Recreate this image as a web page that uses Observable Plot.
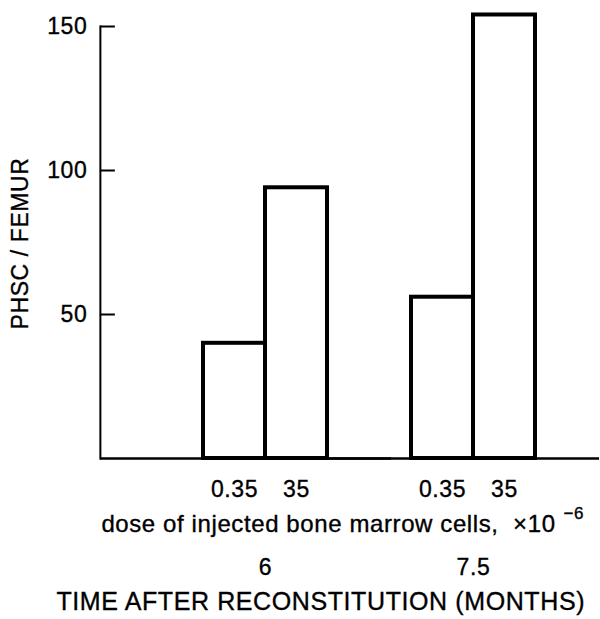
<!DOCTYPE html>
<html><head><meta charset="utf-8">
<script src="https://cdn.jsdelivr.net/npm/d3@7"></script>
<script src="https://cdn.jsdelivr.net/npm/@observablehq/plot@0.6"></script>
<style>
body{margin:0;background:#fff;}
#chart svg{display:block}
#chart text{letter-spacing:0.6px;stroke:#000;stroke-width:0.35px}
#chart g[aria-label="x-label"] text{letter-spacing:0.9px}
#chart g[aria-label="time-label"] text{letter-spacing:1.05px}
#chart g[aria-label="y-label"] text{letter-spacing:0.2px}
#chart g[aria-label="x-label-exp"] text{letter-spacing:0.5px}
</style></head><body><div id="chart"></div>
<script>
const times = ["6", "7.5"];
const doses = ["0.35", "35"];
const phsc6 = [40, 94];
const phsc75 = [56, 154];
const yTicks = [50, 100, 150];
const yLabel = "PHSC / FEMUR";
const xLabel = "dose of injected bone marrow cells,  ×10";
const xLabelExp = "−6";
const fxLabel = "TIME AFTER RECONSTITUTION (MONTHS)";

const data = [
  ...doses.map((d, i) => ({time: times[0], dose: d, value: phsc6[i]})),
  ...doses.map((d, i) => ({time: times[1], dose: d, value: phsc75[i]}))
];

// layout of the facet bands
const W = 600, H = 619, mL = 99, mR = 0, mT = 26, mB = 161;
const pIn = 0.402, pOut = 0.4, al = 0.617;
const span = W - mL - mR;
const step = span / (times.length - pIn + 2 * pOut);
const used = step * (times.length - pIn);
const leftPad = (span - used) * al;   // frame left -> first facet
const rightPad = span - used - leftPad; // last facet -> frame right
// super-facet marks are anchored on the first facet's left edge
const sx = (px) => px - mL - leftPad;

const font = "'Liberation Sans', Arial, Helvetica, sans-serif";
const plot = Plot.plot({
  width: W, height: H,
  marginLeft: mL, marginRight: mR, marginTop: mT, marginBottom: mB,
  style: {fontFamily: font, fontSize: "23px", color: "#000", background: "#fff", overflow: "visible"},
  x: {domain: doses, padding: 0},
  y: {domain: [0, 150]},
  fx: {domain: times, paddingInner: pIn, paddingOuter: pOut, align: al},
  marks: [
    Plot.barY(data, {fx: "time", x: "dose", y: "value", fill: "white", stroke: "black", strokeWidth: 4, inset: 0}),
    Plot.ruleY([0], {insetLeft: -leftPad, insetRight: -rightPad, stroke: "black", strokeWidth: 2.5}),
    Plot.frame({anchor: "left", facet: "super", dx: -leftPad, stroke: "black", strokeWidth: 2}),
    Plot.axisY({ticks: yTicks, tickSize: -15, tickPadding: 28, strokeWidth: 2, dx: -leftPad, label: null, fontSize: 23}),
    Plot.axisX({tickSize: 0, tickPadding: 22, label: null, fontSize: 23}),
    Plot.axisFx({anchor: "bottom", tickSize: 0, tickPadding: 100, label: null, fontSize: 23}),
    Plot.text([yLabel], {facet: "super", frameAnchor: "left", rotate: -90, dx: -80 - leftPad, dy: 87, text: d => d, fontSize: 23, ariaLabel: "y-label"}),
    Plot.text([xLabel], {facet: "super", frameAnchor: "bottom-left", textAnchor: "start", dx: sx(100), dy: 73, text: d => d, fontSize: 24, ariaLabel: "x-label"}),
    Plot.text([xLabelExp], {facet: "super", frameAnchor: "bottom-left", textAnchor: "start", dx: sx(562), dy: 60, text: d => d, fontSize: 17, ariaLabel: "x-label-exp"}),
    Plot.text([fxLabel], {facet: "super", frameAnchor: "bottom-left", textAnchor: "start", dx: sx(55), dy: 151, text: d => d, fontSize: 25, ariaLabel: "time-label"})
  ]
});
document.getElementById("chart").append(plot);
</script></body></html>
